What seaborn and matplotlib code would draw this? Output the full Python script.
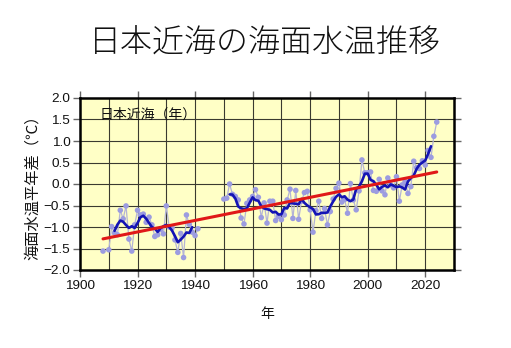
import numpy as np
import pandas as pd
import matplotlib
matplotlib.use("Agg")
import matplotlib.pyplot as plt
import seaborn as sns

# Annual sea surface temperature anomaly around Japan (deg C)
prewar_years = [1908] + list(range(1910, 1942))
prewar_anom = [-1.56,
               -1.53, -0.99, -1.14, -1.18, -0.61, -0.81, -0.51, -1.28, -1.56, -0.95,
               -0.61, -0.72, -0.70, -0.89, -0.77, -0.95, -1.22, -1.18, -1.06, -1.16,
               -0.51, -1.00, -1.02, -1.30, -1.59, -1.15, -1.71, -0.72, -0.94, -1.12,
               -1.20, -1.04]

postwar_years = list(range(1950, 2025))
postwar_anom = [-0.35, -0.33, 0.00, -0.24, -0.29, -0.37, -0.79, -0.93, -0.45, -0.37,
                -0.29, -0.13, -0.31, -0.78, -0.44, -0.91, -0.40, -0.40, -0.85, -0.75,
                -0.83, -0.72, -0.37, -0.12, -0.80, -0.15, -0.82, -0.40, -0.20, -0.17,
                -0.60, -1.12, -0.62, -0.40, -0.80, -0.57, -0.95, -0.64, -0.35, -0.10,
                0.02, -0.42, -0.36, -0.68, 0.01, -0.37, -0.60, -0.16, 0.56, 0.26,
                0.26, 0.28, -0.15, -0.17, 0.11, -0.16, -0.25, 0.14, -0.02, -0.09,
                0.17, -0.40, -0.02, 0.06, -0.22, -0.06, 0.53, 0.38, 0.36, 0.54,
                0.44, 0.78, 0.62, 1.11, 1.44]

x_ticks = [1900, 1920, 1940, 1960, 1980, 2000, 2020]
y_ticks = [-2.0, -1.5, -1.0, -0.5, 0.0, 0.5, 1.0, 1.5, 2.0]

title = "日本近海の海面水温推移"
region_label = "日本近海（年）"
x_label = "年"
y_label = "海面水温平年差（℃）"

sns.set_theme(style="white")
cjk = ["Noto Sans CJK JP", "DejaVu Sans"]
latin = ["Liberation Sans", "DejaVu Sans"]
plt.rcParams["font.family"] = latin
plt.rcParams["axes.unicode_minus"] = True

# Assemble a yearly table; missing years stay NaN so lines break there
all_years = np.arange(1908, 2025)
series = pd.Series(np.nan, index=all_years)
series.loc[prewar_years] = prewar_anom
series.loc[postwar_years] = postwar_anom
df = pd.DataFrame({"year": all_years, "anom": series.values})
df["ma5"] = df["anom"].rolling(5, center=True, min_periods=5).mean()

# contiguous runs of valid values
valid = df["anom"].notna()
df["seg"] = (valid != valid.shift()).cumsum()

obs = df.dropna(subset=["anom"])
coef = np.polyfit(obs["year"], obs["anom"], 1)
trend = pd.DataFrame({"year": [obs["year"].min(), obs["year"].max()]})
trend["val"] = np.polyval(coef, trend["year"])

fig = plt.figure(figsize=(5.11, 3.48), dpi=100)
ax = fig.add_axes([80 / 511, 1 - 270 / 348, 374 / 511, 172 / 348])
ax.set_facecolor("#ffffc6")

ax.set_xlim(1900, 2030)
ax.set_ylim(-2.0, 2.0)

# grid
for gx in range(1910, 2030, 10):
    ax.axvline(gx, color="#3a3a30", lw=0.8, zorder=1)
for gy in np.arange(-1.5, 2.0, 0.5):
    ax.axhline(gy, color="#3a3a30", lw=0.8, zorder=1)

# yearly values: thin connecting lines and dots
for _, seg in df[valid].groupby("seg"):
    if len(seg) > 1:
        sns.lineplot(data=seg, x="year", y="anom", ax=ax, color="#b4b4d6",
                     lw=0.9, zorder=3, estimator=None, sort=True)
sns.scatterplot(data=obs, x="year", y="anom", ax=ax, color="#9c9ce0",
                s=16, edgecolor="none", zorder=4)

# 5-year running mean
ma = df.dropna(subset=["ma5"]).copy()
ma["mseg"] = (ma["year"].diff() != 1).cumsum()
for _, seg in ma.groupby("mseg"):
    sns.lineplot(data=seg, x="year", y="ma5", ax=ax, color="#1414b4",
                 lw=1.9, zorder=5, estimator=None, sort=True)

# long-term linear trend
sns.lineplot(data=trend, x="year", y="val", ax=ax, color="#e01818",
             lw=2.2, zorder=6, estimator=None)

for sp in ax.spines.values():
    sp.set_color("black")
    sp.set_linewidth(1.8)
    sp.set_visible(True)

ax.set_xticks(x_ticks)
ax.set_yticks(y_ticks)
ax.set_yticklabels([f"{v:.1f}".replace("-", "\u2212") for v in y_ticks])
ax.tick_params(axis="both", which="both", direction="out", length=5, width=1.0,
               color="#666666", labelsize=9.7, labelcolor="#111111", pad=2,
               top=True, right=True, labeltop=False, labelright=False,
               bottom=True, left=True)

ax.set_xlabel(x_label, fontfamily=cjk, fontsize=10, labelpad=11, color="#111111")
ax.set_ylabel(y_label, fontfamily=cjk, fontsize=11, labelpad=2, color="#111111")

ax.text(0.053, 0.905, region_label, transform=ax.transAxes, fontfamily=cjk,
        fontsize=10, color="#111111", va="center", ha="left", zorder=7)

fig.text(264.5 / 511, 1 - 43 / 348, title, fontfamily=cjk, fontsize=23,
         fontweight="light", ha="center", va="center", color="#111111")

fig.savefig("out.png", dpi=100, facecolor="white")
